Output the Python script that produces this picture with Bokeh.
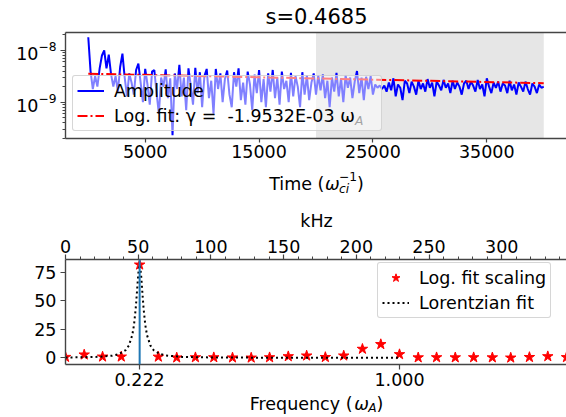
import numpy as np
from bokeh.plotting import figure
from bokeh.layouts import column
from bokeh.models import (Range1d, FixedTicker, LinearAxis, BoxAnnotation, Span,
                          Legend, LegendItem, Label, NumeralTickFormatter)
from bokeh.embed import file_html
from bokeh.resources import INLINE

# ---------------- data ----------------
title_text = "s=0.4685"
t_start = 0
t_step = 200
amp_e9 = [
    18, 4.0, 1.8, 3.2, 2.0, 4.5, 8.0, 10.0, 4.5, 8.3,
    3.5, 2.0, 3.2, 1.6, 4.8, 8.7, 3.0, 1.3, 3.6, 2.4,
    1.4, 4.2, 5.6, 2.4, 1.0, 4.4, 2.2, 0.9, 3.9, 4.2,
    1.5, 0.6, 3.0, 2.0, 4.3, 1.2, 2.9, 0.23, 3.6, 1.8,
    5.3, 1.3, 3.0, 0.7, 4.5, 2.1, 0.9, 4.6, 1.5, 3.8,
    0.8, 3.2, 4.4, 1.2, 2.6, 0.6, 4.4, 1.8, 3.6, 1.0,
    2.8, 4.1, 1.4, 0.8, 3.8, 2.0, 4.5, 1.1, 2.4, 0.9,
    3.9, 2.2, 0.7, 3.4, 1.5, 4.2, 1.0, 2.8, 0.8, 3.6,
    1.6, 4.2, 1.2, 3.0, 0.9, 3.9, 1.8, 2.6, 1.0, 3.7,
    1.3, 3.2, 2.0, 0.8, 3.8, 1.4, 3.3, 1.1, 2.4, 3.6,
    1.4, 3.3, 1.7, 3.4, 1.2, 2.6, 0.8, 3.0, 1.6, 3.7,
    1.3, 2.9, 1.0, 3.3, 1.9, 3.0, 1.2, 2.5, 4.0, 1.5,
    3.0, 1.1, 3.1, 1.8, 3.2, 1.4, 2.2, 1.9, 2.1, 1.8,
    2.1, 1.6, 2.4, 1.7, 2.9, 1.3, 2.2, 1.9, 1.1, 2.6,
    2.3, 1.5, 2.5, 2.0, 1.4, 2.6, 1.8, 2.3, 1.6, 2.8,
    1.9, 2.4, 1.3, 2.5, 2.1, 1.7, 2.7, 1.9, 2.3, 1.5,
    2.6, 1.8, 2.4, 2.0, 1.4, 2.3, 2.6, 1.8, 2.5, 2.1,
    1.6, 2.7, 1.8, 2.2, 1.3, 2.9, 2.0, 1.5, 2.4, 1.9,
    2.5, 1.6, 2.3, 2.1, 1.5, 2.6, 1.7, 2.2, 1.4, 2.4,
    2.0, 1.6, 2.5, 1.8, 1.4, 2.3, 2.0, 1.5, 2.2, 1.9,
    2.0,
]
fit_t = [0, 40000]
fit_amp = [3.55e-9, 2.33e-9]
gamma_text = "-1.9532E-03"
shade_t = [20000, 40000]
time_range = (-2000, 42000)
amp_log_range = (-9.702, -7.652)
time_ticks = [5000, 15000, 25000, 35000]
amp_ticks = [1e-9, 1e-8]

freq = [0.000, 0.056, 0.111, 0.167, 0.222, 0.278, 0.333, 0.389, 0.444, 0.500,
        0.556, 0.611, 0.667, 0.722, 0.778, 0.833, 0.889, 0.944, 1.000, 1.056,
        1.111, 1.167, 1.222, 1.278, 1.333, 1.389, 1.444, 1.500]
scaling = [0.6, 2.7, 0.9, 0.9, 81.5, 0.8, 0.1, 0.3, 0.3, 0.1,
           0.0, 0.3, 1.2, 1.8, 0.5, 1.8, 7.7, 11.8, 3.0, 0.2,
           0.3, 0.2, 0.3, 0.2, 0.0, 0.5, 1.2, 0.4]
lor_f = [0.0, 0.05, 0.10, 0.14, 0.16, 0.18, 0.19, 0.20, 0.205, 0.21, 0.214, 0.218,
         0.222, 0.226, 0.230, 0.234, 0.239, 0.244, 0.254, 0.264, 0.284, 0.30,
         0.35, 0.40, 0.50, 0.60, 0.80, 1.00]
lor_y = [0.26, 0.43, 0.85, 1.85, 3.2, 6.6, 10.8, 19.9, 28.6, 42.4, 57.8, 74.0,
         81.5, 74.0, 57.8, 42.4, 28.6, 19.9, 10.8, 6.6, 3.2, 2.04,
         0.77, 0.40, 0.16, 0.09, 0.04, 0.02]
peak_freq = 0.222
freq_range = (0.0, 1.5)
scaling_range = (-5.9, 86.1)
freq_ticks = [0.222, 1.0]
scaling_ticks = [0, 25, 50, 75]
khz_per_omega = 229.7
khz_ticks = [0, 50, 100, 150, 200, 250, 300]

# ---------------- style helpers ----------------
FONT = "DejaVu Sans"
FS = 17.5
SPINE = "#444444"
W = 566
LEFT = 65

CW = {' ': .318, '(': .390, ')': .390, '-': .361, '.': .318, ':': .337, '=': .838,
      'A': .684, 'E': .632, 'F': .575, 'H': .752, 'L': .557, 'T': .611,
      'a': .613, 'c': .550, 'd': .635, 'e': .615, 'f': .352, 'g': .635, 'i': .278,
      'k': .579, 'l': .278, 'm': .974, 'n': .634, 'o': .612, 'p': .635, 'q': .635,
      'r': .411, 's': .521, 't': .392, 'u': .634, 'y': .592, 'z': .525,
      'ω': .80, 'γ': .59, '−': .838}
for d in "0123456789":
    CW[d] = .636


def text_w(s, px):
    return sum(CW.get(ch, 0.6) for ch in s) * px


def strip(height):
    # frame spans page x LEFT..W, so data x == page x
    s = figure(width=W, height=height, x_range=Range1d(LEFT, W), y_range=Range1d(height, 0),
               x_axis_type=None, y_axis_type=None, output_backend="svg",
               toolbar_location=None, min_border_left=LEFT, min_border_right=0,
               min_border_top=0, min_border_bottom=0)
    s.outline_line_color = None
    return s


def add_rich(fig, top_y, cx, cy, parts):
    total = sum(text_w(t, s) for t, s, it, dy, adv in parts if adv)
    x = cx - total / 2
    for t, s, it, dy, adv in parts:
        fig.add_layout(Label(x=x, y=cy - top_y - dy, text=t,
                             text_font=FONT, text_font_size=f"{s:.2f}px",
                             text_font_style="italic" if it else "normal",
                             text_align="left", text_baseline="middle",
                             text_color="black"))
        if adv:
            x += text_w(t, s)


def style_axis(ax, standoff):
    ax.axis_line_color = SPINE
    ax.axis_line_width = 1.4
    ax.major_tick_line_color = SPINE
    ax.minor_tick_line_color = SPINE
    ax.major_tick_line_width = 1.2
    ax.minor_tick_line_width = 1.0
    ax.major_tick_out = 5
    ax.major_tick_in = 0
    ax.minor_tick_out = 3
    ax.minor_tick_in = 0
    ax.major_label_text_font = FONT
    ax.major_label_text_font_size = f"{FS}px"
    ax.major_label_text_color = "black"
    ax.major_label_standoff = standoff


def style_legend(leg):
    leg.label_text_font = FONT
    leg.label_text_font_size = f"{FS}px"
    leg.label_text_color = "black"
    leg.glyph_width = 27
    leg.glyph_height = 21
    leg.label_height = 21
    leg.label_standoff = 10
    leg.padding = 4
    leg.spacing = 4
    leg.margin = 0
    leg.border_line_color = "#cccccc"
    leg.border_line_alpha = 0.8
    leg.background_fill_color = "white"
    leg.background_fill_alpha = 0.5
    if "border_radius" in Legend.properties():
        leg.border_radius = 3


# ---------------- title strip (page y 0-30) ----------------
s_title = strip(30)
add_rich(s_title, 0, 316, 16, [(title_text, 21, False, 0, True)])

# ---------------- top panel (page y 30-166, frame 32-138) ----------------
top = figure(width=W, height=136, y_axis_type="log",
             x_range=Range1d(*time_range),
             y_range=Range1d(10 ** amp_log_range[0], 10 ** amp_log_range[1]),
             output_backend="svg", toolbar_location=None,
             min_border_left=LEFT, min_border_right=0,
             min_border_top=2, min_border_bottom=28)
top.outline_line_color = None
top.grid.visible = False

top.add_layout(BoxAnnotation(left=shade_t[0], right=shade_t[1], fill_color="#808080",
                             fill_alpha=0.2, line_color=None, level="underlay"))

times = t_start + t_step * np.arange(len(amp_e9))
amp = np.array(amp_e9) * 1e-9
r_amp = top.line(times, amp, line_color="#0000ff", line_width=2)
r_fit = top.line(fit_t, fit_amp, line_color="#ff0000", line_width=2, line_dash="10 3 2 3")

top.xaxis.ticker = FixedTicker(ticks=time_ticks)
minor_log = [m * 10.0 ** e for e in (-10, -9, -8) for m in range(2, 10)]
top.yaxis.ticker = FixedTicker(ticks=amp_ticks, minor_ticks=minor_log)
for ax in top.xaxis:
    style_axis(ax, 2)
    ax.major_tick_out = 4
for ax in top.yaxis:
    style_axis(ax, 4)
spine_top = LinearAxis(ticker=FixedTicker(ticks=[]), major_label_text_font_size="0px",
                       major_tick_out=0, major_tick_in=0, minor_tick_out=0, minor_tick_in=0,
                       major_label_standoff=0,
                       major_tick_line_color=None, minor_tick_line_color=None,
                       axis_line_color=SPINE, axis_line_width=1.4)
top.add_layout(spine_top, "above")

leg_top = Legend(items=[LegendItem(label="Amplitude", renderers=[r_amp]),
                        LegendItem(label="Log. fit: γ =  " + gamma_text + " ω    ",
                                   renderers=[r_fit])],
                 location=(7, 7))
style_legend(leg_top)
top.add_layout(leg_top)

# subscript A after omega in the legend (frame-relative screen units)
prefix = "Log. fit: γ =  " + gamma_text + " ω"
xa = 72 + 4 + 27 + 10 + text_w(prefix, FS) + 1
top.add_layout(Label(x=xa - LEFT, y=138 - 116.5 - 4, x_units="screen", y_units="screen",
                     text="A", text_font=FONT, text_font_size=f"{FS * 0.7:.2f}px",
                     text_font_style="italic", text_align="left", text_baseline="middle",
                     level="overlay"))

# ---------------- middle strip (page y 166-230) ----------------
s_mid = strip(64)
add_rich(s_mid, 166, 316, 183, [
    ("Time (", FS, False, 0, True),
    ("ω", FS, True, 0, True),
    ("ci", FS * 0.7, True, -5, False),
    ("−1", FS * 0.7, False, 7, True),
    (")", FS, False, 0, True),
])
add_rich(s_mid, 166, 316, 220, [("kHz", FS, False, 0, True)])

# ---------------- bottom panel (page y 230-393, frame 259-364) ----------------
bot = figure(width=W, height=163,
             x_range=Range1d(*freq_range), y_range=Range1d(*scaling_range),
             output_backend="svg", toolbar_location=None,
             min_border_left=LEFT, min_border_right=0,
             min_border_top=29, min_border_bottom=29)
bot.outline_line_color = None
bot.grid.visible = False
bot.extra_x_ranges = {"khz": Range1d(freq_range[0] * khz_per_omega, freq_range[1] * khz_per_omega)}

r_star = bot.scatter(freq, scaling, marker="star", size=11, fill_color="#ff0000",
                     line_color="#ff0000")
r_lor = bot.line(lor_f, lor_y, line_color="black", line_width=2, line_dash="2 3")
bot.add_layout(Span(location=peak_freq, dimension="height", line_color="#1f77b4",
                    line_width=2))

bot.xaxis.ticker = FixedTicker(ticks=freq_ticks)
bot.xaxis.formatter = NumeralTickFormatter(format="0.000")
bot.yaxis.ticker = FixedTicker(ticks=scaling_ticks)
for ax in bot.xaxis:
    style_axis(ax, 3)
for ax in bot.yaxis:
    style_axis(ax, 4)
khz_minor = [v for v in range(0, 350, 10) if v % 50]
khz_axis = LinearAxis(x_range_name="khz", ticker=FixedTicker(ticks=khz_ticks, minor_ticks=khz_minor))
style_axis(khz_axis, 2)
bot.add_layout(khz_axis, "above")

leg_bot = Legend(items=[LegendItem(label="Log. fit scaling", renderers=[r_star]),
                        LegendItem(label="Lorentzian fit", renderers=[r_lor])],
                 location=(312, 46))
style_legend(leg_bot)
bot.add_layout(leg_bot)

# ---------------- bottom strip (page y 393-417) ----------------
s_bot = strip(24)
add_rich(s_bot, 393, 316, 403, [
    ("Frequency (", FS, False, 0, True),
    ("ω", FS, True, 0, True),
    ("A", FS * 0.7, True, -4, True),
    (")", FS, False, 0, True),
])

layout = column(s_title, top, s_mid, bot, s_bot)
open("out.html", "w").write(file_html(layout, INLINE))
